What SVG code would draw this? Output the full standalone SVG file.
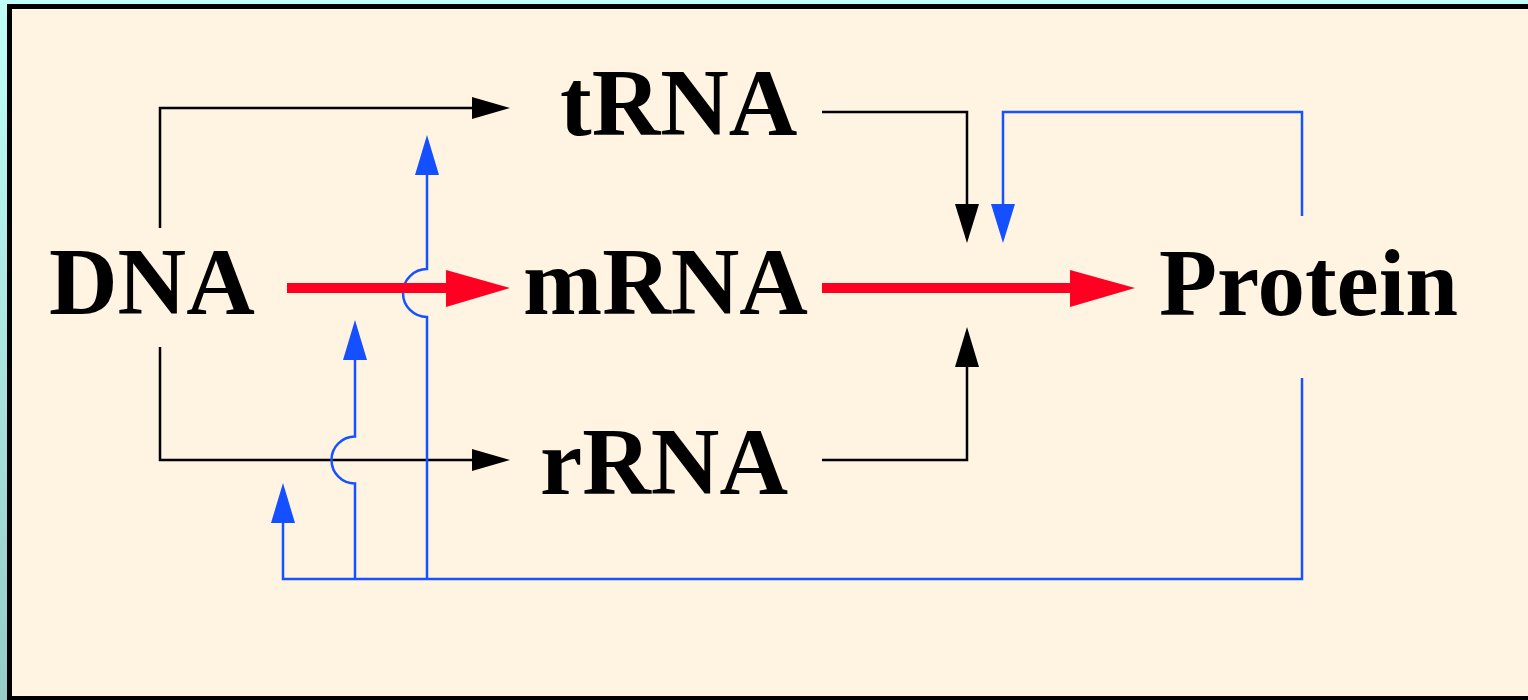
<svg xmlns="http://www.w3.org/2000/svg" width="1528" height="700" viewBox="0 0 1528 700">
<style>
.lbl{font-family:"Liberation Serif","Times New Roman",serif;font-weight:bold;font-size:95px;fill:#000}
.blk{fill:none;stroke:#000;stroke-width:2.5}
.blu{fill:none;stroke:#1652FF;stroke-width:2.5}
.red{fill:none;stroke:#FF0022;stroke-width:10}
</style>
<defs>
<linearGradient id="bg" x1="0" y1="0" x2="0" y2="1">
<stop offset="0" stop-color="#C0FFF9"/>
<stop offset="1" stop-color="#96CBC8"/>
</linearGradient>
</defs>
<rect x="0" y="0" width="1528" height="700" fill="url(#bg)"/>
<rect x="9.5" y="6.5" width="1530" height="692" fill="#FFF3E2" stroke="#000" stroke-width="5"/>
<g id="connectors">
<polyline class="blk" points="160,228 160,108 475,108"/>
<polygon points="472,97 510,108 472,119" fill="#000"/>
<polyline class="blk" points="160,347 160,460 475,460"/>
<polygon points="472,449 510,460 472,471" fill="#000"/>
<polyline class="blk" points="822,112 967,112 967,206"/>
<polygon points="955,204 967,243 979,204" fill="#000"/>
<polyline class="blk" points="822,460 967,460 967,365"/>
<polygon points="955,367 967,327 979,367" fill="#000"/>
<polyline class="blu" points="1302,216 1302,112 1003,112 1003,206"/>
<polygon points="991,204 1003,243 1015,204" fill="#1450FF"/>
<polyline class="blu" points="1302,378 1302,579 283,579 283,521"/>
<polygon points="271,523 283,483 295,523" fill="#1450FF"/>
<path class="blu" d="M355,579 V483.5 A23.5,23.5 0 0 1 355,436.5 V358"/>
<polygon points="343,360 355,320 367,360" fill="#1450FF"/>
<path class="blu" d="M427,579 V317 A24,24 0 0 1 427,269 V173"/>
<polygon points="415,175 427,135 439,175" fill="#1450FF"/>
<line class="red" x1="287" y1="288" x2="450" y2="288"/>
<polygon points="446,270 510,288 446,307" fill="#FF0022"/>
<line class="red" x1="822" y1="288" x2="1074" y2="288"/>
<polygon points="1070,270 1135,288 1070,307" fill="#FF0022"/>
</g>
<g id="node-dna"><text class="lbl" x="49" y="314">DNA</text></g>
<g id="node-trna"><text class="lbl" x="560" y="135">tRNA</text></g>
<g id="node-mrna"><text class="lbl" x="523" y="314">mRNA</text></g>
<g id="node-rrna"><text class="lbl" x="540" y="494">rRNA</text></g>
<g id="node-protein"><text class="lbl" x="1159" y="315">Protein</text></g>
</svg>
